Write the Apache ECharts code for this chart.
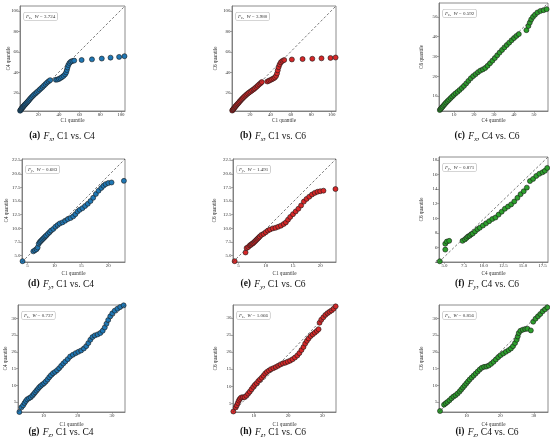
<!DOCTYPE html>
<html>
<head>
<meta charset="utf-8">
<script src="https://cdn.jsdelivr.net/npm/echarts@6/dist/echarts.min.js"></script>
<style>
  html, body { margin: 0; padding: 0; background: #fff; }
  #qq { width: 550px; height: 446px; }
</style>
</head>
<body>
<div id="qq"></div>
<script>
/*************************************
 *
 * quantile pairs
 *
 ************************************/
var fxC1C4 = [[2.4,2.8],[2.8,3.3],[3.2,3.9],[3.6,4.5],[4.0,5.1],[4.5,5.7],[5.0,6.3],[5.5,6.9],[6.1,7.6],[6.7,8.3],[7.4,9.0],[8.1,9.8],[8.9,10.7],[9.7,11.6],[10.6,12.6],[11.5,13.7],[12.5,14.9],[13.6,16.1],[14.8,17.3],[16.0,18.5],[17.3,19.7],[18.6,20.9],[20.0,22.1],[21.4,23.4],[22.8,24.7],[24.2,26.0],[25.6,27.4],[27.0,28.8],[28.5,30.2],[30.0,31.5],[31.5,32.6],[37.0,33.0],[38.5,33.2],[40.0,33.8],[41.5,34.6],[43.0,35.6],[44.5,36.8],[46.0,38.3],[47.0,40.2],[47.7,42.5],[48.3,45.0],[49.1,47.4],[50.2,49.3],[51.5,50.6],[53.0,51.3],[54.8,51.7],[62.0,52.3],[72.0,52.9],[81.5,53.7],[90.0,54.6],[98.3,55.3],[103.5,56.0]];
var fxC1C6 = [[2.6,2.9],[3.0,3.5],[3.5,4.1],[4.0,4.8],[4.6,5.5],[5.2,6.3],[5.9,7.1],[6.6,8.0],[7.4,8.9],[8.2,9.8],[9.1,10.8],[10.0,11.9],[11.0,13.0],[12.0,14.1],[13.1,15.2],[14.2,16.3],[15.4,17.4],[16.6,18.5],[17.9,19.6],[19.2,20.6],[20.6,21.6],[22.0,22.6],[23.4,23.6],[24.8,24.7],[26.2,25.9],[27.6,27.2],[29.0,28.5],[30.4,29.7],[31.6,30.8],[37.0,31.3],[38.5,32.0],[40.0,32.7],[41.5,33.5],[43.0,34.3],[44.4,35.3],[45.6,36.8],[46.5,39.2],[47.2,42.2],[48.0,45.3],[49.0,47.9],[50.2,50.0],[51.7,51.4],[53.5,52.3],[61.0,52.8],[71.5,53.2],[81.0,53.5],[90.0,53.9],[98.8,54.3],[103.8,54.7]];
var fxC4C6 = [[2.9,3.0],[3.3,3.5],[3.8,4.1],[4.3,4.7],[4.9,5.4],[5.5,6.1],[6.1,6.8],[6.8,7.5],[7.5,8.2],[8.3,9.0],[9.1,9.8],[9.9,10.6],[10.8,11.4],[11.8,12.2],[12.8,13.1],[13.9,14.1],[15.0,15.2],[16.1,16.4],[17.2,17.7],[18.4,19.0],[19.6,20.1],[20.8,21.1],[22.0,22.1],[23.2,22.9],[24.4,23.5],[25.6,24.2],[26.8,25.3],[28.0,26.6],[29.2,27.9],[30.4,29.2],[31.6,30.6],[32.8,32.0],[34.0,33.3],[35.2,34.6],[36.4,35.8],[37.6,37.0],[38.8,38.2],[40.0,39.3],[41.2,40.4],[42.4,41.3],[46.2,43.3],[47.2,45.4],[47.9,47.1],[48.6,48.7],[49.5,50.0],[50.5,51.1],[51.7,52.2],[53.2,53.0],[54.8,53.4],[56.3,53.9]];
var fyC1C4 = [[4.1,4.0],[6.1,5.8],[6.4,6.0],[6.7,6.2],[6.9,6.5],[7.1,7.2],[7.3,7.5],[7.5,7.7],[7.7,7.9],[7.9,8.1],[8.1,8.3],[8.3,8.5],[8.5,8.7],[8.8,9.0],[9.1,9.3],[9.4,9.6],[9.8,9.9],[10.2,10.3],[10.6,10.6],[11.0,10.9],[11.5,11.1],[12.0,11.4],[12.5,11.7],[13.0,11.9],[13.5,12.2],[13.9,12.6],[14.3,13.1],[14.7,13.4],[15.2,13.7],[15.7,14.1],[16.2,14.5],[16.7,15.0],[17.2,15.6],[17.7,16.3],[18.2,16.9],[18.7,17.4],[19.1,17.8],[19.5,18.1],[20.0,18.3],[20.6,18.4],[22.9,18.7]];
var fyC1C6 = [[4.3,4.0],[6.3,5.6],[6.5,6.4],[6.8,6.6],[7.1,6.9],[7.3,7.0],[7.5,7.2],[7.7,7.3],[7.9,7.5],[8.1,7.7],[8.3,7.9],[8.5,8.1],[8.7,8.3],[8.9,8.5],[9.2,8.8],[9.6,9.0],[10.0,9.3],[10.4,9.6],[10.8,9.8],[11.3,10.0],[11.8,10.1],[12.3,10.3],[12.8,10.5],[13.3,10.8],[13.7,11.1],[14.1,11.6],[14.5,12.1],[15.0,12.6],[15.5,13.1],[16.0,13.6],[16.5,14.2],[17.0,14.9],[17.5,15.4],[18.0,15.8],[18.5,16.2],[19.0,16.5],[19.5,16.7],[20.0,16.8],[20.6,16.9],[22.8,17.2]];
var fyC4C6 = [[4.4,4.1],[5.1,5.7],[5.1,6.5],[5.3,6.8],[5.6,6.9],[7.3,6.9],[7.6,7.1],[7.8,7.3],[8.0,7.5],[8.2,7.6],[8.4,7.8],[8.6,7.9],[8.9,8.2],[9.2,8.5],[9.5,8.7],[9.9,9.0],[10.3,9.3],[10.7,9.6],[11.1,9.9],[11.5,10.1],[11.9,10.5],[12.3,10.9],[12.7,11.3],[13.1,11.6],[13.5,11.9],[13.9,12.3],[14.3,12.8],[14.7,13.3],[15.1,13.7],[15.5,14.2],[15.9,15.1],[16.3,15.4],[16.7,15.8],[17.1,16.1],[17.5,16.3],[17.8,16.5],[18.1,16.9]];
var fzC1C4 = [[3.0,2.0],[3.6,3.4],[4.1,4.0],[4.5,4.7],[4.9,5.3],[5.3,5.8],[5.8,6.1],[6.3,6.4],[6.8,6.9],[7.2,7.4],[7.6,7.9],[8.0,8.4],[8.4,8.9],[8.8,9.4],[9.2,9.8],[9.7,10.2],[10.2,10.6],[10.7,11.1],[11.2,11.7],[11.7,12.4],[12.2,13.0],[12.8,13.6],[13.4,14.0],[14.0,14.5],[14.6,15.1],[15.2,15.8],[15.8,16.5],[16.4,17.1],[17.1,17.8],[17.8,18.6],[18.6,19.1],[19.4,19.6],[20.2,20.0],[21.0,20.4],[21.8,21.0],[22.5,21.7],[23.1,22.6],[23.7,23.6],[24.3,24.4],[25.0,24.9],[25.8,25.2],[26.6,25.6],[27.3,26.3],[27.9,27.3],[28.4,28.4],[28.9,29.5],[29.5,30.6],[30.1,31.5],[30.8,32.3],[31.6,32.9],[32.4,33.4],[33.4,33.9]];
var fzC1C6 = [[4.0,2.6],[4.7,3.8],[5.0,4.4],[5.3,5.1],[5.6,5.8],[5.9,6.3],[6.3,6.7],[6.8,6.8],[7.3,6.8],[7.8,7.2],[8.3,7.8],[8.8,8.4],[9.3,9.1],[9.8,9.8],[10.3,10.4],[10.8,10.9],[11.3,11.5],[11.8,12.0],[12.3,12.5],[12.8,13.1],[13.3,13.7],[13.8,14.2],[14.4,14.6],[15.0,15.0],[15.7,15.3],[16.4,15.6],[17.1,16.0],[17.8,16.4],[18.5,16.7],[19.2,16.9],[19.9,17.2],[20.6,17.5],[21.3,17.9],[22.0,18.4],[22.7,19.0],[23.3,19.7],[23.9,20.6],[24.5,21.5],[25.0,22.5],[25.5,23.3],[26.0,24.0],[26.6,24.7],[27.2,25.2],[27.8,25.7],[28.4,26.2],[28.9,26.7],[29.2,28.6],[29.7,29.5],[30.3,30.2],[30.9,30.9],[31.5,31.4],[32.1,31.8],[32.7,32.2],[33.3,32.7],[33.9,33.4]];
var fzC4C6 = [[2.1,2.3],[3.3,4.2],[3.8,4.6],[4.3,5.0],[4.9,5.5],[5.5,6.1],[6.1,6.6],[6.7,7.0],[7.3,7.5],[7.9,8.1],[8.4,8.7],[8.9,9.3],[9.4,9.9],[9.9,10.5],[10.4,11.1],[10.9,11.7],[11.5,12.3],[12.1,12.9],[12.7,13.5],[13.3,14.1],[13.9,14.7],[14.5,15.2],[15.2,15.5],[15.9,15.6],[16.6,15.9],[17.3,16.4],[18.0,17.0],[18.7,17.7],[19.4,18.4],[20.1,19.0],[20.9,19.5],[21.7,20.0],[22.5,20.5],[23.2,21.0],[23.8,21.7],[24.4,22.6],[24.9,23.6],[25.2,24.6],[25.5,25.6],[26.0,26.3],[26.7,26.6],[27.4,26.8],[28.1,26.9],[29.1,26.4],[29.8,29.0],[30.5,29.9],[31.2,30.6],[31.9,31.3],[32.6,32.1],[33.3,32.7],[34.0,33.3]];

// tick labels
var ticksFx = [20, 40, 60, 80, 100];
var ticksFxC4 = [10, 20, 30, 40, 50];
var ticksFyX = [5, 10, 15, 20];
var ticksFyY = [5, 7.5, 10, 12.5, 15, 17.5, 20, 22.5];
var ticksFyC4X = [5, 7.5, 10, 12.5, 15, 17.5];
var ticksFyC4Y = [4, 6, 8, 10, 12, 14, 16, 18];
var ticksFzX = [10, 20, 30];
var ticksFzY = [5, 10, 15, 20, 25, 30];

// W statistic per panel
var wValues = ['3.724', '3.980', '0.592', '0.683', '1.491', '0.871', '0.737', '1.066', '0.856'];

/*************************************
 *
 * panel layout
 *
 ************************************/
var blue = '#1f77b4', red = '#d62728', green = '#2ca02c';
var serif = '"Liberation Serif", "DejaVu Serif", serif';

var panels = [
  {tag: 'a', sub: 'x', pair: ['C1', 'C4'], data: fxC1C4, color: blue,  box: [20, 6, 105, 105],   xLim: [2.3, 104],  yLim: [2.5, 105], xT: ticksFx,    yT: ticksFx,    xD: 0, yD: 0, xGap: 7.5, yGap: 9,  cap: [62, 136]},
  {tag: 'b', sub: 'x', pair: ['C1', 'C6'], data: fxC1C6, color: red,   box: [232, 6, 104, 105],  xLim: [2.4, 104.2],yLim: [2.5, 105], xT: ticksFx,    yT: ticksFx,    xD: 0, yD: 0, xGap: 7.5, yGap: 13.5, cap: [273, 136]},
  {tag: 'c', sub: 'x', pair: ['C4', 'C6'], data: fxC4C6, color: green, box: [439, 3, 109, 108],  xLim: [2.5, 57],   yLim: [2.5, 57],  xT: ticksFxC4,  yT: ticksFxC4,  xD: 0, yD: 0, xGap: 7.5, yGap: 15, cap: [487, 136]},
  {tag: 'd', sub: 'y', pair: ['C1', 'C4'], data: fyC1C4, color: blue,  box: [22, 159, 103, 103], xLim: [4, 23.1],   yLim: [3.85, 22.7], xT: ticksFyX, yT: ticksFyY,   xD: 0, yD: 1, xGap: 9, yGap: 12.7, cap: [61, 284]},
  {tag: 'e', sub: 'y', pair: ['C1', 'C6'], data: fyC1C6, color: red,   box: [233, 159, 103, 103],xLim: [4, 22.9],   yLim: [3.85, 22.7], xT: ticksFyX, yT: ticksFyY,   xD: 0, yD: 1, xGap: 9, yGap: 16, cap: [273, 284]},
  {tag: 'f', sub: 'y', pair: ['C4', 'C6'], data: fyC4C6, color: green, box: [439, 157, 109, 105],xLim: [4.3, 18.2], yLim: [4, 18.4],  xT: ticksFyC4X, yT: ticksFyC4Y, xD: 1, yD: 0, xGap: 9, yGap: 15, cap: [487, 284]},
  {tag: 'g', sub: 'z', pair: ['C1', 'C4'], data: fzC1C4, color: blue,  box: [18, 305, 107, 107], xLim: [2.6, 33.8], yLim: [2, 34],    xT: ticksFzX,   yT: ticksFzY,   xD: 0, yD: 0, xGap: 10, yGap: 9.7, cap: [61, 432]},
  {tag: 'h', sub: 'z', pair: ['C1', 'C6'], data: fzC1C6, color: red,   box: [233, 305, 103, 107],xLim: [3.9, 34],   yLim: [2.45, 33.8], xT: ticksFzX, yT: ticksFzY,   xD: 0, yD: 0, xGap: 10, yGap: 15, cap: [273, 432]},
  {tag: 'i', sub: 'z', pair: ['C4', 'C6'], data: fzC4C6, color: green, box: [439, 305, 109, 107],xLim: [1.8, 34.2], yLim: [2, 34],    xT: ticksFzX,   yT: ticksFzY,   xD: 0, yD: 0, xGap: 10, yGap: 15, cap: [487, 432]}
];

function makeAxis(i, name, lim, ticks, dec, gap) {
  return {
    gridIndex: i,
    type: 'value',
    min: lim[0],
    max: lim[1],
    name: name,
    nameLocation: 'middle',
    nameGap: gap,
    nameMoveOverlap: false,
    nameTextStyle: {fontFamily: serif, fontSize: 5.2, color: '#333'},
    axisLine: {show: true, onZero: false, lineStyle: {color: '#707070', width: 0.8}},
    axisTick: {show: true, length: 1.8, customValues: ticks, lineStyle: {color: '#707070', width: 0.6}},
    axisLabel: {
      customValues: ticks,
      margin: 1.5,
      fontFamily: serif,
      fontSize: 4.9,
      color: '#333',
      formatter: function (v) { return Number(v).toFixed(dec); }
    },
    splitLine: {show: false}
  };
}

var capRich = {
  b: {fontFamily: serif, fontSize: 9.5, fontWeight: 'bold', fill: '#111', lineHeight: 13, verticalAlign: 'middle'},
  i: {fontFamily: serif, fontSize: 9.5, fontStyle: 'italic', fill: '#111', lineHeight: 13, verticalAlign: 'middle'},
  s: {fontFamily: serif, fontSize: 6.5, fontStyle: 'italic', fill: '#111', lineHeight: 13, verticalAlign: 'bottom'},
  n: {fontFamily: serif, fontSize: 9.5, fill: '#111', lineHeight: 13, verticalAlign: 'middle'}
};
var wRich = {
  i: {fontFamily: serif, fontSize: 5, fontStyle: 'italic', fill: '#333', lineHeight: 6.5, verticalAlign: 'middle'},
  s: {fontFamily: serif, fontSize: 3.6, fontStyle: 'italic', fill: '#333', lineHeight: 6.5, verticalAlign: 'bottom'},
  n: {fontFamily: serif, fontSize: 5, fill: '#333', lineHeight: 6.5, verticalAlign: 'middle'}
};

var grids = [], xAxes = [], yAxes = [], series = [], graphics = [];

panels.forEach(function (p, i) {
  var b = p.box;
  grids.push({left: b[0], top: b[1], width: b[2], height: b[3], show: true, borderColor: '#707070', borderWidth: 0.8});
  xAxes.push(makeAxis(i, p.pair[0] + ' quantile', p.xLim, p.xT, p.xD, p.xGap));
  yAxes.push(makeAxis(i, p.pair[1] + ' quantile', p.yLim, p.yT, p.yD, p.yGap));

  series.push({
    type: 'scatter',
    xAxisIndex: i,
    yAxisIndex: i,
    data: p.data,
    symbolSize: 5,
    itemStyle: {color: p.color, borderColor: '#1a1a1a', borderWidth: 0.6, opacity: 1},
    z: 2
  });
  // reference diagonal
  series.push({
    type: 'line',
    xAxisIndex: i,
    yAxisIndex: i,
    data: [[p.xLim[0], p.yLim[0]], [p.xLim[1], p.yLim[1]]],
    symbol: 'none',
    silent: true,
    lineStyle: {color: '#444', width: 0.7, type: [2.5, 2]},
    z: 3
  });

  graphics.push({
    type: 'text',
    x: b[0] + 4,
    y: b[1] + 6.5,
    silent: true,
    z: 10,
    style: {
      text: '{i|F}{s|' + p.sub + '}{n|,  }{i|W}{n| = ' + wValues[i] + '}',
      rich: wRich,
      align: 'left',
      verticalAlign: 'top',
      backgroundColor: '#fff',
      borderColor: '#b5b5b5',
      borderWidth: 0.6,
      borderRadius: 1.5,
      padding: [0.6, 2, 0.6, 2]
    }
  });
  graphics.push({
    type: 'text',
    x: p.cap[0],
    y: p.cap[1],
    silent: true,
    style: {
      text: '{b|(' + p.tag + ')} {i|F}{s|' + p.sub + '}{n|, ' + p.pair[0] + ' vs. ' + p.pair[1] + '}',
      rich: capRich,
      align: 'center',
      verticalAlign: 'middle'
    }
  });
});

var qqChart = echarts.init(document.getElementById('qq'));
qqChart.setOption({
  animation: false,
  backgroundColor: '#fff',
  grid: grids,
  xAxis: xAxes,
  yAxis: yAxes,
  series: series,
  graphic: graphics
});
</script>
</body>
</html>
